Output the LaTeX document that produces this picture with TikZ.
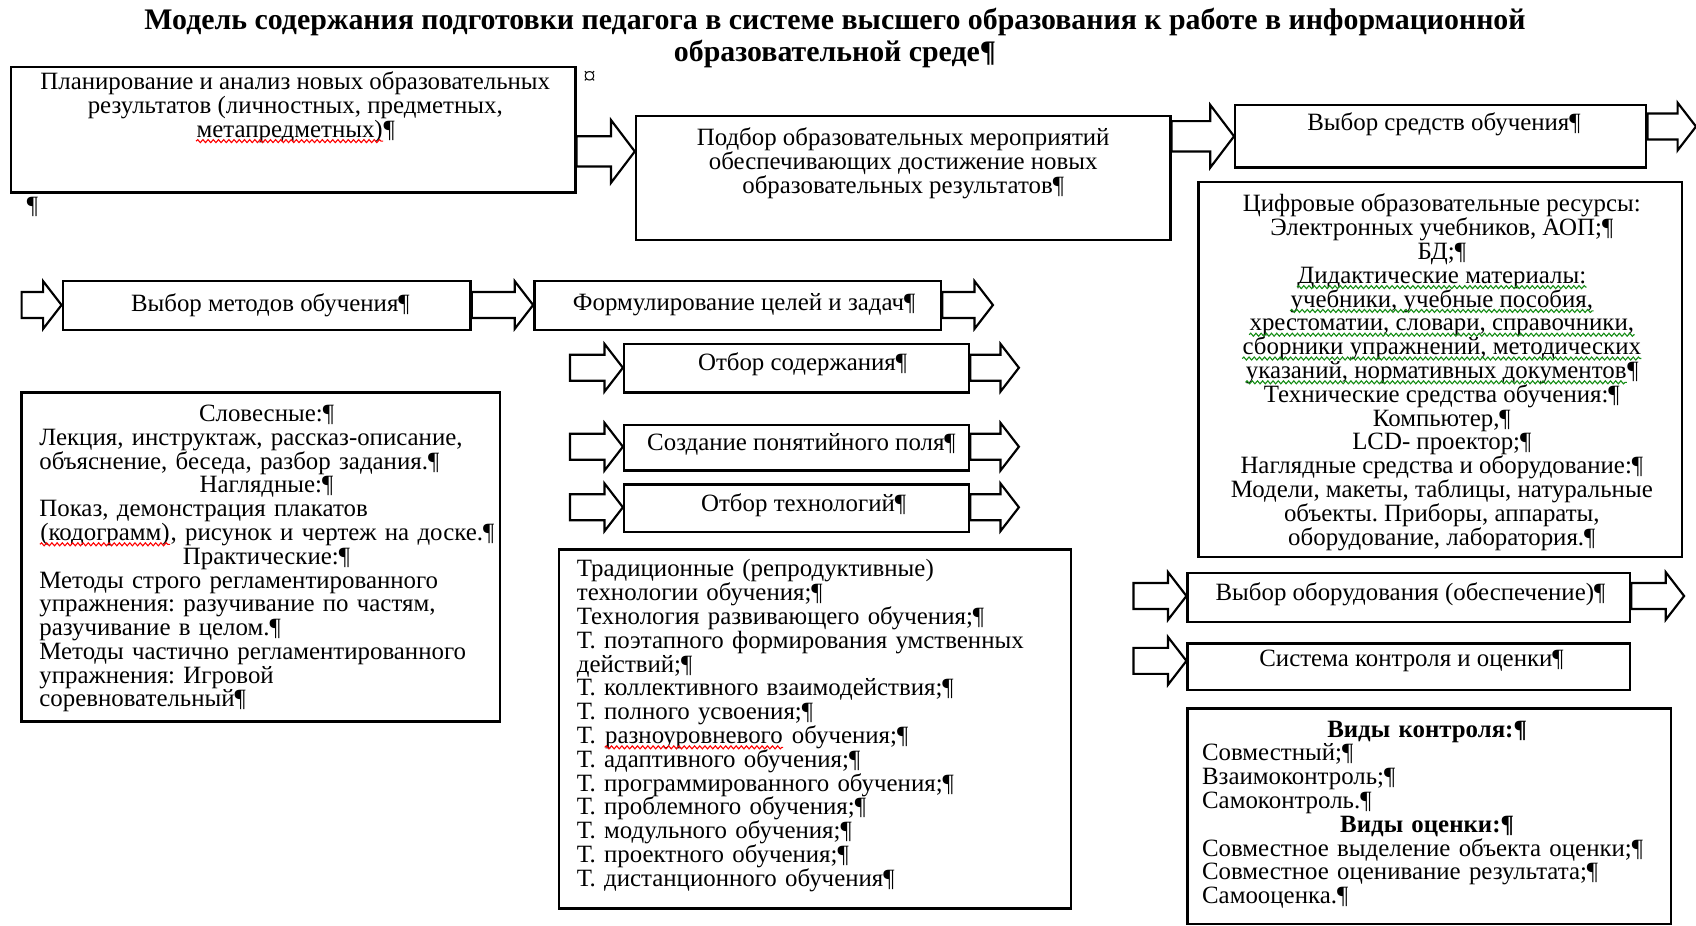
\documentclass[tikz,border=0pt]{standalone}
\usepackage{fontspec}
\setmainfont{Liberation Serif}
\usetikzlibrary{calc,fit,decorations.pathmorphing}
\frenchspacing

\definecolor{wordgreen}{RGB}{20,140,20}

% spell-check squiggle under a word
\newcommand\wavy[2]{\tikz[baseline=(sq.base)]{%
  \node[inner sep=0pt] (sq) {#2};
  \draw[#1, line width=0.5pt, decorate, decoration={snake, amplitude=0.7pt, segment length=2.4pt}]
    ($(sq.base west)+(0,-1.8pt)$) -- ($(sq.base east)+(0,-1.8pt)$);}}
\newcommand\redwave[1]{\wavy{red}{#1}}
\newcommand\greenwave[1]{\wavy{wordgreen}{#1}}

% block arrow: from #1 to #2 at height #3
\newcommand\arrshaft{12}
\newcommand\arrhead{22}
\newcommand\arrlen{17}
\newcommand\fatarrow[3]{%
  \draw[fat] ($(#1 |- 0,#3)+(0,\arrshaft)$) -- ($(#2 |- 0,#3)+(-\arrlen,\arrshaft)$)
    -- ($(#2 |- 0,#3)+(-\arrlen,\arrhead)$) -- (#2 |- 0,#3)
    -- ($(#2 |- 0,#3)+(-\arrlen,-\arrhead)$) -- ($(#2 |- 0,#3)+(-\arrlen,-\arrshaft)$)
    -- ($(#1 |- 0,#3)+(0,-\arrshaft)$) -- cycle;}

\begin{document}
\begin{tikzpicture}[
    x=0.5pt, y=0.5pt,
    box/.style = {
      draw,
      line width = 1.1pt,
      inner sep = 0pt
    },
    fat/.style = {
      draw,
      line width = 1pt,
      fill = white
    },
    txt/.style = {
      inner sep = 0pt,
      font = \fontsize{11.5}{11}\selectfont
    }
  ]
\useasboundingbox (0,0) rectangle (1568,-856);

% title
\node[txt, align=center, font=\bfseries\fontsize{13.8}{14.5}\selectfont] (title) at (772,-35)
  {Модель содержания подготовки педагога в системе высшего образования к работе в информационной\\
   образовательной среде¶};

% boxes
\node[box, fit={(10,-62) (532,-178)}]    (bxA) {};
\node[box, fit={(588,-107) (1082,-222)}] (bxB) {};
\node[box, fit={(1142,-97) (1522,-155)}] (bxC) {};
\node[box, fit={(1108,-168) (1555,-515)}] (bxD) {};
\node[box, fit={(58,-260) (435,-305)}]   (bxE) {};
\node[box, fit={(494,-260) (870,-305)}]  (bxF) {};
\node[box, fit={(577,-318) (896,-363)}]  (bxG) {};
\node[box, fit={(577,-393) (896,-435)}]  (bxH) {};
\node[box, fit={(577,-448) (896,-492)}]  (bxI) {};
\node[box, fit={(517,-508) (990,-840)}]  (bxJ) {};
\node[box, fit={(20,-363) (462,-667)}]   (bxK) {};
\node[box, fit={(1098,-530) (1507,-575)}] (bxL) {};
\node[box, fit={(1098,-595) (1507,-638)}] (bxM) {};
\node[box, fit={(1098,-655) (1545,-854)}] (bxN) {};

% texts
\node[txt, align=center, anchor=north] (tA) at (273,-66)
  {Планирование и анализ новых образовательных\\
   результатов (личностных, предметных,\\
   \redwave{метапредметных)}¶};
\node[txt, align=center, anchor=north] (tB) at (835,-118)
  {Подбор образовательных мероприятий\\
   обеспечивающих достижение новых\\
   образовательных результатов¶};
\node[txt] (tC) at (1335,-115) {Выбор средств обучения¶};
\node[txt, align=center, anchor=north] (tD) at (1333,-179)
  {Цифровые образовательные ресурсы:\\
   Электронных учебников, АОП;¶\\
   БД;¶\\
   \greenwave{Дидактические материалы:}\\
   \greenwave{учебники, учебные пособия,}\\
   \greenwave{хрестоматии, словари, справочники,}\\
   \greenwave{сборники упражнений, методических}\\
   \greenwave{указаний, нормативных документов}¶\\
   Технические средства обучения:¶\\
   Компьютер,¶\\
   LCD- проектор;¶\\
   Наглядные средства и оборудование:¶\\
   Модели, макеты, таблицы, натуральные\\
   объекты. Приборы, аппараты,\\
   оборудование, лаборатория.¶};
\node[txt] (tE) at (250,-282) {Выбор методов обучения¶};
\node[txt] (tF) at (688,-282) {Формулирование целей и задач¶};
\node[txt] (tG) at (742,-337) {Отбор содержания¶};
\node[txt] (tH) at (741,-411) {Создание понятийного поля¶};
\node[txt] (tI) at (743,-467) {Отбор технологий¶};
\node[txt, text width=225pt, align=left, anchor=north west] (tJ) at (533,-517)
  {Традиционные (репродуктивные)\\
   технологии обучения;¶\\
   Технология развивающего обучения;¶\\
   Т. поэтапного формирования умственных\\
   действий;¶\\
   Т. коллективного взаимодействия;¶\\
   Т. полного усвоения;¶\\
   Т. \redwave{разноуровневого} обучения;¶\\
   Т. адаптивного обучения;¶\\
   Т. программированного обучения;¶\\
   Т. проблемного обучения;¶\\
   Т. модульного обучения;¶\\
   Т. проектного обучения;¶\\
   Т. дистанционного обучения¶};
\node[txt, text width=210pt, align=left, anchor=north west] (tK) at (36,-374)
  {{\centering Словесные:¶\par}
   Лекция, инструктаж, рассказ-описание,\\
   объяснение, беседа, разбор задания.¶\par
   {\centering Наглядные:¶\par}
   Показ, демонстрация плакатов\\
   \mbox{\redwave{(кодограмм)}, рисунок и чертеж на доске.¶}\par
   {\centering Практические:¶\par}
   Методы строго регламентированного\\
   упражнения: разучивание по частям,\\
   разучивание в целом.¶\\
   Методы частично регламентированного\\
   упражнения: Игровой\\
   соревновательный¶};
\node[txt] (tL) at (1304,-549) {Выбор оборудования (обеспечение)¶};
\node[txt] (tM) at (1305,-611) {Система контроля и оценки¶};
\node[txt, text width=208pt, align=left, anchor=north west] (tN) at (1111,-666)
  {{\centering\bfseries Виды контроля:¶\par}
   Совместный;¶\\
   Взаимоконтроль;¶\\
   Самоконтроль.¶\par
   {\centering\bfseries Виды оценки:¶\par}
   Совместное выделение объекта оценки;¶\\
   Совместное оценивание результата;¶\\
   Самооценка.¶};

% marks
\node[txt] (mkA) at (545,-72) {¤};
\node[txt] (mkB) at (30,-191) {¶};

% free ends
\coordinate (inE)  at (20,-282);
\coordinate (outF) at (918,-282);
\coordinate (inG)  at (527,0);
\coordinate (outG) at (942,0);
\coordinate (outC) at (1568,-117);
\coordinate (inL)  at (1048,0);
\coordinate (outL) at (1557,-552);

% arrows
{\renewcommand\arrshaft{14}\renewcommand\arrhead{29}\renewcommand\arrlen{22}
\fatarrow{bxA.east}{bxB.west}{-140}
\fatarrow{bxB.east}{bxC.west}{-126}}
\fatarrow{bxC.east}{outC}{-117}
\fatarrow{inE}{bxE.west}{-282}
\fatarrow{bxE.east}{bxF.west}{-282}
\fatarrow{bxF.east}{outF}{-282}
\fatarrow{inG}{bxG.west}{-340}
\fatarrow{bxG.east}{outG}{-340}
\fatarrow{inG}{bxH.west}{-413}
\fatarrow{bxH.east}{outG}{-413}
\fatarrow{inG}{bxI.west}{-469}
\fatarrow{bxI.east}{outG}{-469}
\fatarrow{inL}{bxL.west}{-551}
\fatarrow{bxL.east}{outL}{-551}
\fatarrow{inL}{bxM.west}{-611}

\end{tikzpicture}
\end{document}
